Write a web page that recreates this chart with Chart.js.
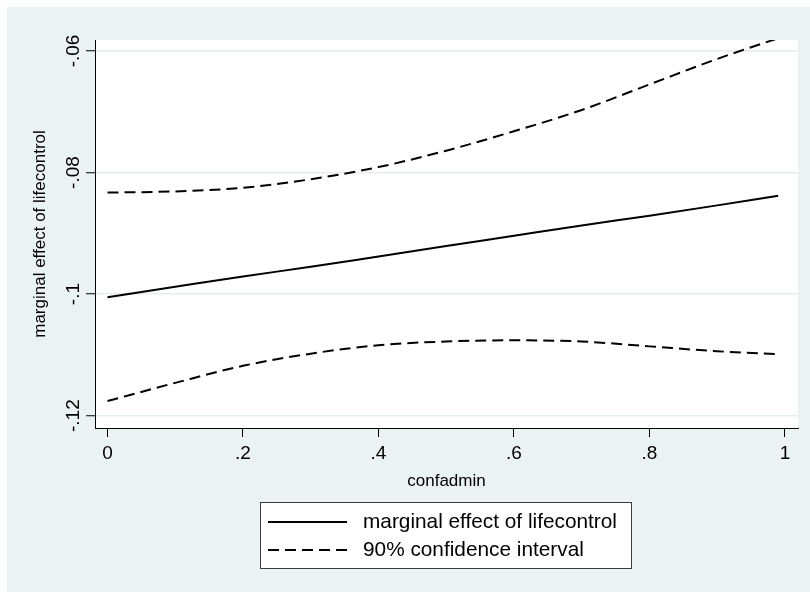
<!DOCTYPE html>
<html>
<head>
<meta charset="utf-8">
<script src="https://cdn.jsdelivr.net/npm/chart.js@4.4.0/dist/chart.umd.min.js"></script>
<style>
  html, body { margin: 0; padding: 0; background: #ffffff; }
  #wrap { width: 810px; height: 592px; position: relative; }
  canvas { display: block; }
</style>
</head>
<body>
<div id="wrap"><canvas id="chart" width="810" height="592"></canvas></div>
<script>
// Moderator values (confadmin) and the estimated effect with its 90% band
const confadmin      = [0,       0.1,     0.2,     0.3,     0.4,     0.5,     0.6,     0.7,     0.8,     0.9,     0.99];
const marginalEffect = [-0.1005, -0.0988, -0.0971, -0.0955, -0.0938, -0.0921, -0.0904, -0.0887, -0.0871, -0.0854, -0.0838];
const ciUpper        = [-0.0833, -0.0831, -0.0825, -0.0811, -0.0791, -0.0764, -0.0732, -0.0697, -0.0655, -0.0613, -0.0579];
const ciLower        = [-0.1176, -0.1146, -0.1118, -0.1098, -0.1084, -0.1078, -0.1076, -0.1078, -0.1086, -0.1094, -0.1099];

const xTickValues = [0, 0.2, 0.4, 0.6, 0.8, 1];
const xTickLabels = ['0', '.2', '.4', '.6', '.8', '1'];
const yTickValues = [-0.12, -0.1, -0.08, -0.06];
const yTickLabels = ['-.12', '-.1', '-.08', '-.06'];

const seriesNames = ['marginal effect of lifecontrol', '90% confidence interval'];
const xTitle = 'confadmin';
const yTitle = 'marginal effect of lifecontrol';

const FONT = "'Liberation Sans', Arial, Helvetica, sans-serif";
const BG = '#eaf2f3';
const DASH = [11, 6];

const toPoints = ys => confadmin.map((x, i) => ({ x: x, y: ys[i] }));
const labelFor = (values, labels, v) => {
  const i = values.findIndex(t => Math.abs(t - v) < 1e-9);
  return i >= 0 ? labels[i] : '';
};

// Graph region background and white plot region
const backdrop = {
  id: 'backdrop',
  beforeDraw(chart) {
    const { ctx, chartArea: a } = chart;
    ctx.save();
    ctx.fillStyle = BG;
    ctx.fillRect(7, 7, chart.width - 7, chart.height - 7);
    ctx.fillStyle = '#ffffff';
    ctx.fillRect(a.left, a.top, a.right - a.left, a.bottom - a.top);
    ctx.restore();
  }
};

// Vertical y tick labels and the boxed legend below the axis title
const annotations = {
  id: 'annotations',
  afterDraw(chart) {
    const { ctx } = chart;
    const ys = chart.scales.y;
    ctx.save();
    ctx.fillStyle = '#000';
    ctx.font = '19px ' + FONT;
    ctx.textAlign = 'center';
    ctx.textBaseline = 'middle';
    yTickValues.forEach((v, i) => {
      const py = ys.getPixelForValue(v);
      ctx.save();
      ctx.translate(74, py);
      ctx.rotate(-Math.PI / 2);
      ctx.fillText(yTickLabels[i], 0, 0);
      ctx.restore();
    });

    // legend box
    const bx = 260, by = 502, bw = 372, bh = 67;
    ctx.fillStyle = '#ffffff';
    ctx.fillRect(bx, by, bw, bh);
    ctx.strokeStyle = '#3a3a3a';
    ctx.lineWidth = 1;
    ctx.strokeRect(bx + 0.5, by + 0.5, bw - 1, bh - 1);

    const rows = [522, 550];
    chart.data.datasets.slice(0, 2).forEach((ds, i) => {
      ctx.beginPath();
      ctx.setLineDash(ds.borderDash || []);
      ctx.lineWidth = ds.borderWidth;
      ctx.strokeStyle = ds.borderColor;
      ctx.moveTo(268, rows[i]);
      ctx.lineTo(347, rows[i]);
      ctx.stroke();
      ctx.setLineDash([]);
      ctx.fillStyle = '#000';
      ctx.font = '20.8px ' + FONT;
      ctx.textAlign = 'left';
      ctx.textBaseline = 'middle';
      ctx.fillText(seriesNames[i], 363, rows[i]);
    });
    ctx.restore();
  }
};

new Chart(document.getElementById('chart'), {
  type: 'line',
  data: {
    datasets: [
      { label: seriesNames[0], data: toPoints(marginalEffect), borderColor: '#000', borderWidth: 2, pointRadius: 0, fill: false, cubicInterpolationMode: 'monotone' },
      { label: seriesNames[1], data: toPoints(ciUpper), borderColor: '#000', borderWidth: 2, borderDash: DASH, pointRadius: 0, fill: false, cubicInterpolationMode: 'monotone' },
      { label: seriesNames[1] + ' (lower)', data: toPoints(ciLower), borderColor: '#000', borderWidth: 2, borderDash: DASH, pointRadius: 0, fill: false, cubicInterpolationMode: 'monotone' }
    ]
  },
  options: {
    responsive: false,
    devicePixelRatio: 1,
    animation: false,
    layout: { padding: { left: 0, top: 40, right: 12, bottom: 0 } },
    plugins: { legend: { display: false }, tooltip: { enabled: false } },
    scales: {
      x: {
        type: 'linear',
        min: -0.01845,
        max: 1.0192,
        afterBuildTicks: s => { s.ticks = xTickValues.map(v => ({ value: v })); },
        afterFit: s => { s.height = 164; },
        ticks: {
          autoSkip: false, maxRotation: 0, minRotation: 0, padding: 5,
          color: '#000', font: { family: FONT, size: 19 },
          callback: v => labelFor(xTickValues, xTickLabels, v)
        },
        grid: { drawOnChartArea: false, drawTicks: true, tickLength: 9, tickColor: '#000', tickWidth: 1 },
        border: { display: true, color: '#000', width: 1 },
        title: { display: true, text: xTitle, color: '#000', font: { family: FONT, size: 17 }, padding: { top: 0, bottom: 100 } }
      },
      y: {
        type: 'linear',
        min: -0.12203,
        max: -0.05819,
        afterBuildTicks: s => { s.ticks = yTickValues.map(v => ({ value: v })); },
        afterFit: s => { s.width = 95; },
        ticks: { display: false },
        grid: { color: '#e4eef0', lineWidth: 1.5, drawTicks: true, tickLength: 9, tickColor: '#000', tickWidth: 1 },
        border: { display: true, color: '#000', width: 1 },
        title: { display: true, text: yTitle, color: '#000', font: { family: FONT, size: 17 }, padding: { top: 30, bottom: 0 } }
      }
    }
  },
  plugins: [backdrop, annotations]
});
</script>
</body>
</html>
